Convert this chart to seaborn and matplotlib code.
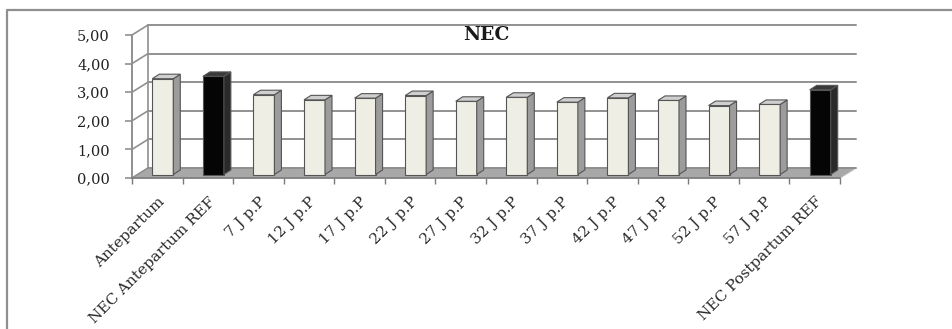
import numpy as np
import pandas as pd
import matplotlib
matplotlib.use("Agg")
import matplotlib.pyplot as plt
import seaborn as sns
from matplotlib.patches import Polygon
from matplotlib.lines import Line2D

# NEC scores per period
categories = ["Antepartum", "NEC Antepartum REF", "7 J p.P", "12 J p.P", "17 J p.P",
              "22 J p.P", "27 J p.P", "32 J p.P", "37 J p.P", "42 J p.P",
              "47 J p.P", "52 J p.P", "57 J p.P", "NEC Postpartum REF"]
values = [3.35, 3.43, 2.79, 2.61, 2.67, 2.76, 2.56, 2.70, 2.53, 2.68, 2.59, 2.41, 2.45, 2.96]
groups = ["mesure", "ref", "mesure", "mesure", "mesure", "mesure", "mesure",
          "mesure", "mesure", "mesure", "mesure", "mesure", "mesure", "ref"]
y_ticks = [0, 1, 2, 3, 4, 5]
y_tick_labels = ["0,00", "1,00", "2,00", "3,00", "4,00", "5,00"]
title = "NEC"

df = pd.DataFrame({"categorie": categories, "valeur": values, "groupe": groups})

sns.set_theme(style="white")
plt.rcParams["font.family"] = ["DejaVu Serif"]

W, H = 952, 329
fig = plt.figure(figsize=(W / 100, H / 100), dpi=100)
fig.patch.set_facecolor("white")
ax = fig.add_axes([132 / W, 151 / H, 708 / W, 143 / H])

front = {"mesure": "#F1EFE3", "ref": "#050505"}
side = {"mesure": "#9C9C9C", "ref": "#2A2A2A"}
top = {"mesure": "#CFCFCF", "ref": "#3A3A3A"}

sns.barplot(data=df, x="categorie", y="valeur", hue="groupe", palette=front,
            dodge=False, width=0.415, edgecolor="#555555", linewidth=0.8,
            legend=False, ax=ax, zorder=3)
ax.set_xlim(-0.5, len(categories) - 0.5)
ax.set_ylim(0, 5)
ax.set_xlabel("")
ax.set_ylabel("")

# pixel -> data conversions for the oblique depth
p0 = ax.transData.transform((0, 0))
p1 = ax.transData.transform((1, 1))
ux = p1[0] - p0[0]
uy = p1[1] - p0[1]
wall_dx, wall_dy = 16 / ux, 10 / uy      # back wall offset
bar_fx, bar_fy = 5.5 / ux, 3.5 / uy      # bar front-face offset
bar_dx, bar_dy = 7 / ux, 4.5 / uy        # bar depth

x0, x1 = -0.5, len(categories) - 0.5
grid_c = "#909090"

# floor
ax.add_patch(Polygon([(x0, 0), (x1, 0), (x1 + wall_dx, wall_dy), (x0 + wall_dx, wall_dy)],
                     closed=True, facecolor="#A8A8A8", edgecolor="#B8B8B8", lw=0.8,
                     clip_on=False, zorder=1))
# back wall gridlines and connectors
for k in y_ticks:
    ax.add_line(Line2D([x0 + wall_dx, x1 + wall_dx], [k + wall_dy, k + wall_dy],
                       color=grid_c, lw=1.4, clip_on=False, zorder=1.5))
    ax.add_line(Line2D([x0, x0 + wall_dx], [k, k + wall_dy],
                       color=grid_c, lw=1.2, clip_on=False, zorder=1.5))
ax.add_line(Line2D([x0 + wall_dx, x0 + wall_dx], [wall_dy, 5 + wall_dy],
                   color=grid_c, lw=1.2, clip_on=False, zorder=1.5))

# extrude the bars
grp_of = dict(zip(categories, groups))
for patch in list(ax.patches):
    if not hasattr(patch, "get_height") or patch.get_height() <= 0:
        continue
    x, w, h = patch.get_x(), patch.get_width(), patch.get_height()
    idx = int(round(x + w / 2))
    g = grp_of[categories[idx]]
    patch.set_x(x + bar_fx)
    patch.set_y(bar_fy)
    patch.set_clip_on(False)
    xs = x + bar_fx
    ax.add_patch(Polygon([(xs + w, bar_fy), (xs + w, bar_fy + h),
                          (xs + w + bar_dx, bar_fy + h + bar_dy), (xs + w + bar_dx, bar_fy + bar_dy)],
                         closed=True, facecolor=side[g], edgecolor="#555555", lw=0.8,
                         clip_on=False, zorder=3))
    ax.add_patch(Polygon([(xs, bar_fy + h), (xs + w, bar_fy + h),
                          (xs + w + bar_dx, bar_fy + h + bar_dy), (xs + bar_dx, bar_fy + h + bar_dy)],
                         closed=True, facecolor=top[g], edgecolor="#555555", lw=0.8,
                         clip_on=False, zorder=3))

# axes styling
for s in ["top", "right"]:
    ax.spines[s].set_visible(False)
ax.spines["left"].set_color(grid_c)
ax.spines["left"].set_linewidth(1.4)
ax.spines["bottom"].set_color("#7A7A7A")
ax.spines["bottom"].set_linewidth(1.2)
ax.set_yticks(y_ticks, y_tick_labels)
ax.tick_params(axis="y", which="major", left=True, length=5, width=1.2, color=grid_c,
               pad=11, labelsize=10.5, labelcolor="#222222")
ax.set_xticks(np.arange(len(categories)), categories)
ax.set_xticks(np.arange(x0, x1 + 0.01, 1), minor=True)
ax.tick_params(axis="x", which="major", bottom=True, length=0, pad=12,
               labelsize=11, labelcolor="#2A2A2A")
ax.tick_params(axis="x", which="minor", bottom=True, length=4, width=1.0, color="#7A7A7A")
for lab in ax.get_xticklabels():
    lab.set_rotation(45)
    lab.set_ha("right")
    lab.set_rotation_mode("anchor")
ax.grid(False)
ax.patch.set_alpha(0)

ax.text(0.5, 1.0, title, transform=ax.transAxes, ha="center", va="center",
        fontsize=13.5, fontweight="bold", color="#1A1A1A")

# outer frame
fig.add_artist(Line2D([7 / W, 7 / W, 1.0], [0.0, 1 - 10 / H, 1 - 10 / H],
                      transform=fig.transFigure, color="#8F8F8F", lw=1.6))

fig.savefig("out.png", dpi=100)
